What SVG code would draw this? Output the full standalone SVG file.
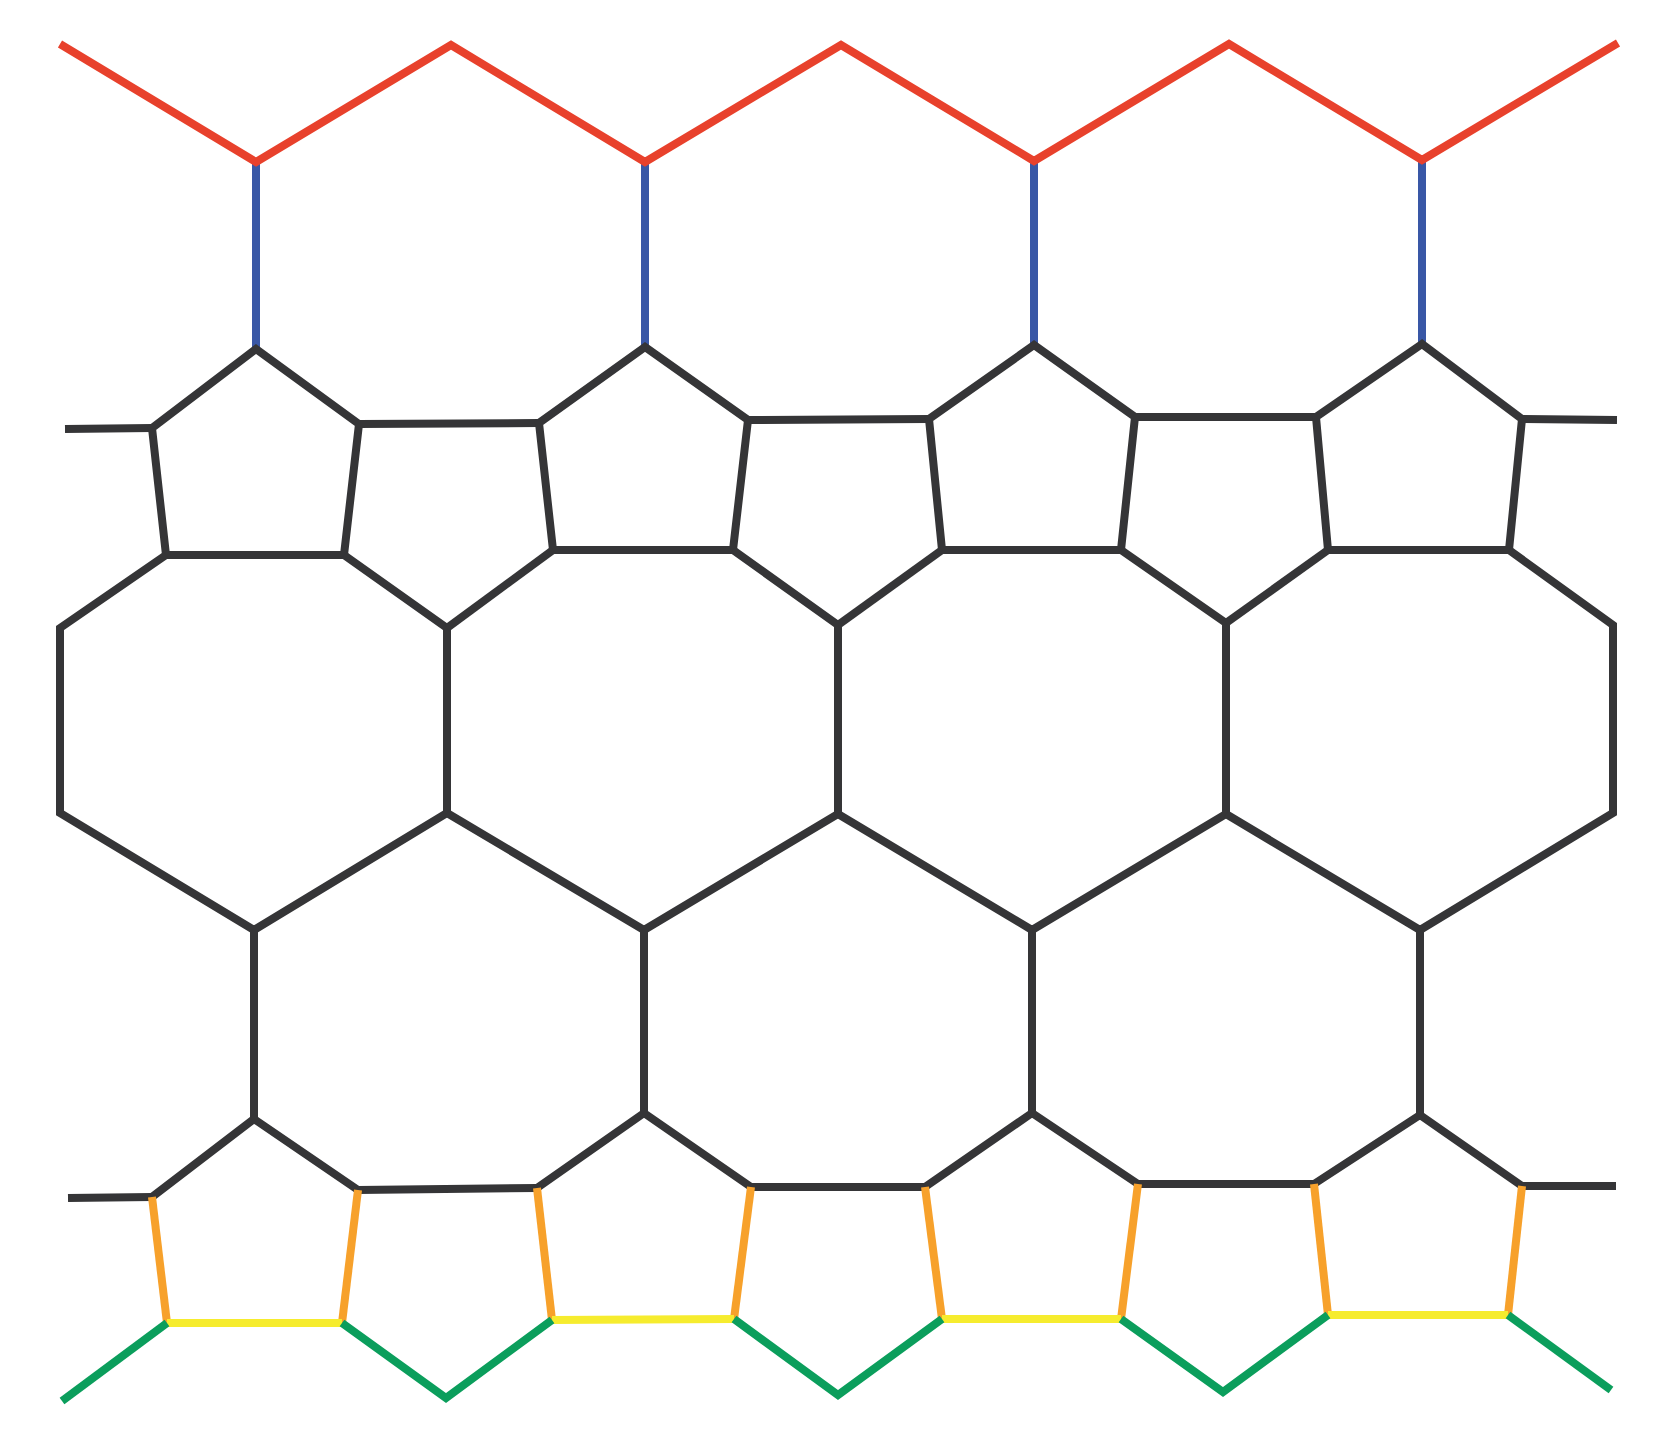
<svg xmlns="http://www.w3.org/2000/svg" width="1667" height="1444" viewBox="0 0 1667 1444">
<style>
.ln{fill:none;stroke-width:8;stroke-linejoin:miter;stroke-linecap:butt}
.red{stroke:#E8412C}
.blue{stroke:#3957A6}
.dark{stroke:#353537}
.orange{stroke:#F7A12B}
.yellow{stroke:#F6EC2E}
.green{stroke:#0B9E5C}
</style>
<rect width="1667" height="1444" fill="#FFFFFF"/>
<g id="blue-links" class="ln blue">
<path d="M256,162 L256,349"/>
<path d="M645,162 L645,347"/>
<path d="M1034,161 L1034,345"/>
<path d="M1422,160 L1422,344"/>
</g>
<g id="red-zigzag" class="ln red">
<path d="M60,44 L256,162 L451,45 L645,162 L841,45 L1034,161 L1229,44 L1422,160 L1618,43"/>
</g>
<g id="top-pentagons" class="ln dark">
<path id="tp-stub-left" d="M65,429 L152,428"/>
<path id="tp1" d="M256,349 L152,428 L166,555 L344,555 L359,424 Z"/>
<path d="M359,424 L539,423"/>
<path id="tp2" d="M645,347 L539,423 L553,550 L733,550 L748,420 Z"/>
<path d="M748,420 L929,419"/>
<path id="tp3" d="M1034,345 L929,419 L942,550 L1121,550 L1135,417 Z"/>
<path d="M1135,417 L1316,417"/>
<path id="tp4" d="M1422,344 L1316,417 L1328,550 L1509,550 L1522,419 Z"/>
<path id="tp-stub-right" d="M1522,419 L1617,420"/>
</g>
<g id="octagons" class="ln dark">
<path id="oct1" d="M166,555 L60,628 L60,813 L254,930 L447,813 L447,628 L344,555"/>
<path d="M447,628 L553,550"/>
<path id="oct2" d="M447,813 L644,930 L838,814 L838,625 L733,550"/>
<path d="M838,625 L942,550"/>
<path id="oct3" d="M838,814 L1032,930 L1226,814 L1226,623 L1121,550"/>
<path d="M1226,623 L1328,550"/>
<path id="oct4" d="M1226,814 L1420,930 L1613,813 L1613,625 L1509,550"/>
<path d="M254,930 L254,1119"/>
<path d="M644,930 L644,1113"/>
<path d="M1032,930 L1032,1113"/>
<path d="M1420,930 L1420,1115"/>
</g>
<g id="bottom-pentagons-top" class="ln dark">
<path d="M68,1198 L152,1197"/>
<path id="bp1-top" d="M152,1197 L254,1119 L358,1190"/>
<path d="M358,1190 L537,1188"/>
<path id="bp2-top" d="M537,1188 L644,1113 L751,1187"/>
<path d="M751,1187 L925,1187"/>
<path id="bp3-top" d="M925,1187 L1032,1113 L1138,1184"/>
<path d="M1138,1184 L1314,1184"/>
<path id="bp4-top" d="M1314,1184 L1420,1115 L1522,1186"/>
<path d="M1522,1186 L1616,1186"/>
</g>
<g id="bottom-pentagons-sides" class="ln orange">
<path d="M152,1197 L167,1323"/>
<path d="M358,1190 L342,1323"/>
<path d="M537,1188 L552,1320"/>
<path d="M751,1187 L734,1319"/>
<path d="M925,1187 L942,1319"/>
<path d="M1138,1184 L1121,1319"/>
<path d="M1314,1184 L1328,1315"/>
<path d="M1522,1186 L1508,1315"/>
</g>
<g id="bottom-pentagons-base" class="ln yellow">
<path d="M167,1323 L342,1323"/>
<path d="M552,1320 L734,1319"/>
<path d="M942,1319 L1121,1319"/>
<path d="M1328,1315 L1508,1315"/>
</g>
<g id="green-zigzag" class="ln green">
<path d="M62,1401 L167,1323"/>
<path d="M342,1323 L446,1398 L552,1320"/>
<path d="M734,1319 L838,1395 L942,1319"/>
<path d="M1121,1319 L1223,1392 L1328,1315"/>
<path d="M1508,1315 L1611,1390"/>
</g>
</svg>
